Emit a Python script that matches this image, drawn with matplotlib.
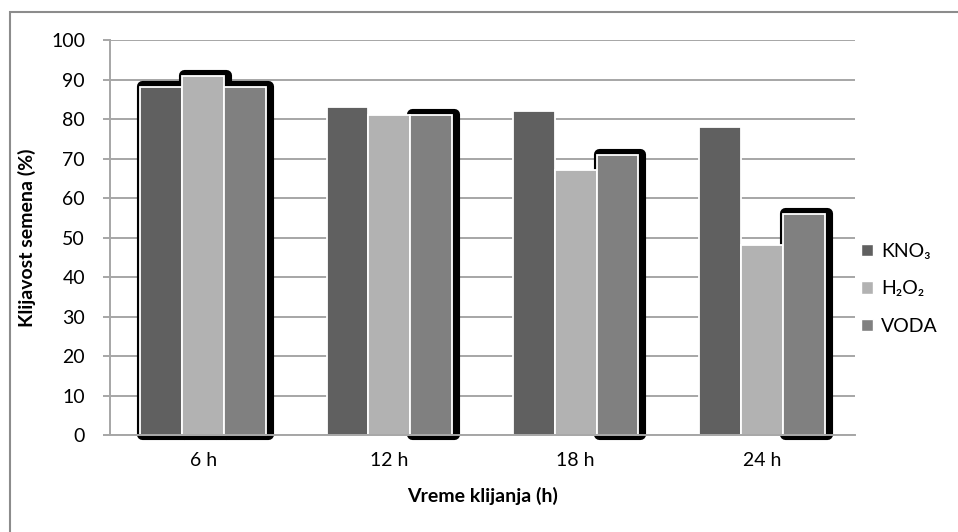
import matplotlib
matplotlib.use('Agg')
import matplotlib.pyplot as plt
import matplotlib.transforms as mtransforms
from matplotlib.patches import Rectangle, Patch
import numpy as np

plt.rcParams['font.family'] = ['Lato', 'DejaVu Sans']

categories = ['6 h', '12 h', '18 h', '24 h']
series = ['KNO₃', 'H₂O₂', 'VODA']
kno3 = [88, 83, 82, 78]
h2o2 = [91, 81, 67, 48]
voda = [88, 81, 71, 56]
values = [kno3, h2o2, voda]
colors = ['#606060', '#b2b2b2', '#808080']
# which bars get the dark rounded shadow behind them
shadowed = [[True, False, False, False],
            [True, False, False, False],
            [True, True, True, True]]

fs = 14

fig = plt.figure(figsize=(9.58, 5.32), dpi=100)
ax = fig.add_axes([0.1148, 0.1823, 0.7777, 0.7425])

x = np.arange(len(categories))
width = 0.225
offsets = [-width, 0, width]

# shadows first, drawn as thick round-joined outlines, nudged a little right
shift = mtransforms.offset_copy(ax.transData, fig=fig, x=2, y=1, units='dots')
for vals, off, mask in zip(values, offsets, shadowed):
    xs = [x[i] + off for i in range(len(x)) if mask[i]]
    hs = [vals[i] for i in range(len(x)) if mask[i]]
    bars = ax.bar(xs, hs, width, color='black', edgecolor='black',
                  linewidth=8, zorder=2, clip_on=False)
    for b in bars:
        b.set_joinstyle('round')
        b.set_transform(shift)

for vals, off, c, name in zip(values, offsets, colors, series):
    ax.bar(x + off, vals, width, color=c, edgecolor='white', linewidth=1.3,
           zorder=3, label=name, clip_on=False)

ax.set_xlim(-0.5, 3.5)
ax.set_ylim(0, 100)
ax.set_yticks(range(0, 101, 10))
ax.set_xticks(x)
ax.set_xticklabels(categories)
ax.yaxis.grid(True, color='#a6a6a6', linewidth=1.4, zorder=0)
ax.set_axisbelow(True)

for s in ['top', 'right']:
    ax.spines[s].set_visible(False)
ax.spines['left'].set_color('#a6a6a6')
ax.spines['left'].set_linewidth(1.4)
ax.spines['bottom'].set_color('#a6a6a6')
ax.spines['bottom'].set_linewidth(1.4)
ax.spines['bottom'].set_zorder(4)

ax.tick_params(axis='y', length=5, width=1.4, color='#a6a6a6', pad=13, labelsize=fs)
ax.tick_params(axis='x', length=0, pad=12, labelsize=fs)

ax.set_ylabel('Klijavost semena (%)', fontsize=fs, fontweight='bold', labelpad=11)
ax.set_xlabel('Vreme klijanja (h)', fontsize=fs, fontweight='bold', labelpad=13)

handles = [Patch(facecolor=c, edgecolor='white', label=n) for c, n in zip(colors, series)]
ax.legend(handles=handles, loc='center left', bbox_to_anchor=(0.995, 0.37),
          frameon=False, fontsize=fs, handlelength=0.6, handleheight=0.6,
          handletextpad=0.45, labelspacing=1.05, borderpad=0)

# outer chart border
fig.patches.append(Rectangle((9.5 / 958, -0.1), 1.2, 1 - 11.5 / 532 + 0.1,
                             transform=fig.transFigure, fill=False,
                             edgecolor='#8c8c8c', linewidth=1.5))

fig.savefig('out.png', dpi=100)
